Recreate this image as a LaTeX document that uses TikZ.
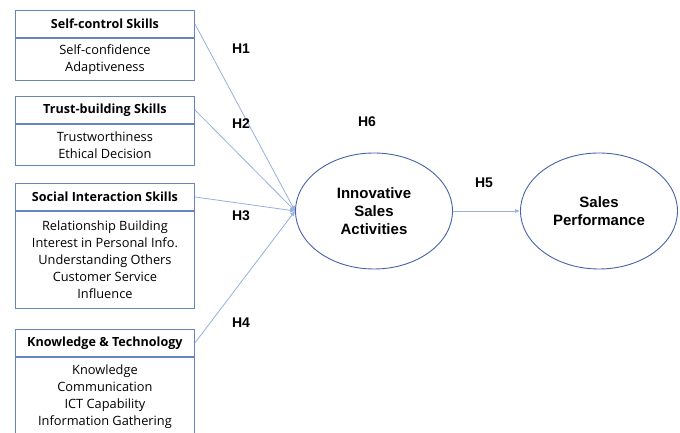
\documentclass[tikz,border=0pt]{standalone}
\usepackage{fontspec}
\setmainfont{Open Sans}
\newfontfamily\hfont{Liberation Sans}
\usetikzlibrary{positioning,arrows.meta,shapes.geometric}
\definecolor{boxblue}{RGB}{104,132,190}
\definecolor{lineblue}{RGB}{150,176,222}
\definecolor{ellblue}{RGB}{72,98,168}
\tikzset{
  headbox/.style={draw=boxblue, line width=0.9pt, minimum width=179pt, minimum height=27pt,
    inner sep=0pt, font=\fontsize{12.6}{14}\selectfont\bfseries, anchor=north west},
  bodybox/.style={draw=boxblue, line width=0.9pt, minimum width=179pt, inner sep=0pt,
    align=center, font=\fontsize{12.8}{17}\selectfont, anchor=north},
  construct/.style={ellipse, draw=ellblue, line width=0.9pt, minimum width=157pt,
    minimum height=116pt, align=center, inner sep=0pt,
    font=\hfont\fontsize{15}{18}\selectfont\bfseries},
  hyp/.style={font=\hfont\fontsize{14}{16}\selectfont\bfseries},
  path/.style={draw=lineblue, line width=0.8pt, -{Latex[length=5pt,width=5pt]}}
}
\begin{document}
\begin{tikzpicture}[x=1pt,y=1pt]
  \useasboundingbox (0,0) rectangle (680,433);
  \clip (0,0) rectangle (680,433);
  % Kompetenzen (links)
  \node [headbox] (self) at (15,423) {Self-control Skills};
  \node [bodybox, minimum height=42pt] (selfb) at (self.south) {Self-confidence\\Adaptiveness};
  \node [headbox] (trust) at (15,337) {Trust-building Skills};
  \node [bodybox, minimum height=41pt] (trustb) at (trust.south) {Trustworthiness\\Ethical Decision};
  \node [headbox] (social) at (15,250) {Social Interaction Skills};
  \node [bodybox, minimum height=97pt] (socialb) at (social.south)
    {Relationship Building\\Interest in Personal Info.\\Understanding Others\\Customer Service\\Influence};
  \node [headbox] (know) at (15,104) {Knowledge \& Technology};
  \node [bodybox, minimum height=92pt, text depth=16pt] (knowb) at (know.south)
    {Knowledge\\Communication\\ICT Capability\\Information Gathering};
  % Konstrukte
  \node [construct] (isa) at (374,222) {Innovative\\Sales\\Activities};
  \node [construct] (perf) at (599,222) {Sales\\Performance};
  % Pfade
  \coordinate (hub) at (isa.west);
  \draw [path] (self.east) -- (hub);
  \draw [path] (trust.east) -- (hub);
  \draw [path] (social.east) -- (hub);
  \draw [path] (know.east) -- (hub);
  \draw [draw=lineblue, line width=0.8pt, -{Latex[length=5pt,width=4pt]}] (isa.east) -- (perf.west);
  % Hypothesen
  \node [hyp] (h1) at (241,384) {H1};
  \node [hyp] (h2) at (241,309) {H2};
  \node [hyp] (h3) at (241,217) {H3};
  \node [hyp] (h4) at (241,110) {H4};
  \node [hyp] (h6) at (367,311) {H6};
  \node [hyp] (h5) at (484,250) {H5};
\end{tikzpicture}
\end{document}
